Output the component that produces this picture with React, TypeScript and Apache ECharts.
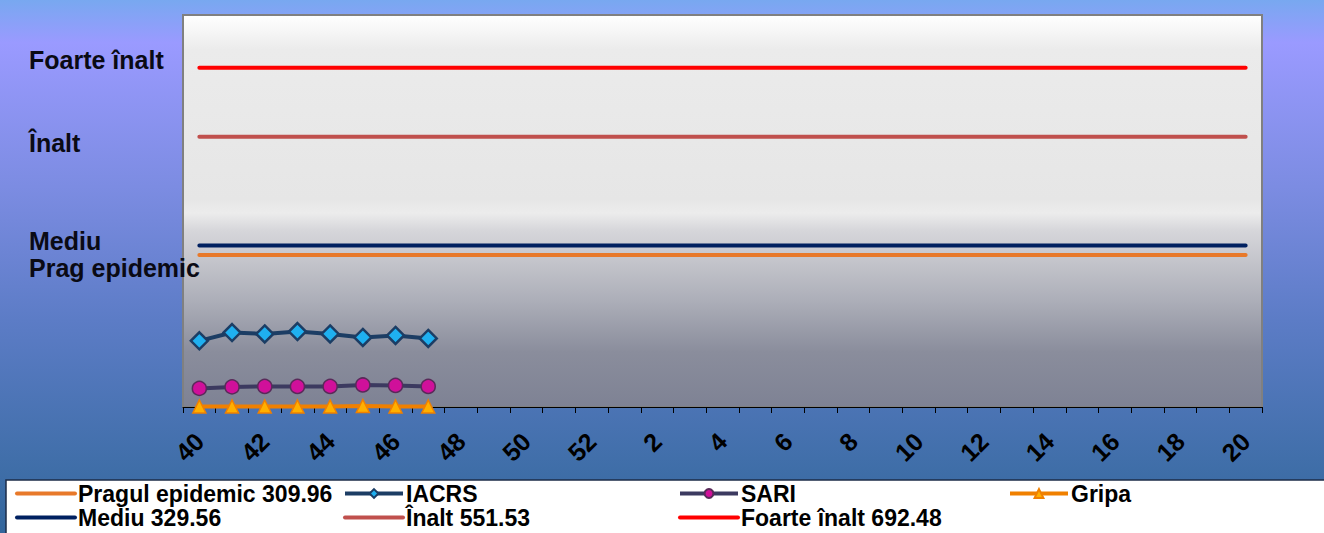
import React, { useEffect, useRef } from "react";
import * as echarts from "echarts";

const WEEKS = [
  "40", "41", "42", "43", "44", "45", "46", "47", "48", "49", "50", "51", "52",
  "1", "2", "3", "4", "5", "6", "7", "8", "9", "10", "11", "12", "13", "14", "15", "16", "17", "18", "19", "20",
];
const IACRS = [135, 152, 149, 154, 149, 142, 146, 140];
const SARI = [38, 41, 42, 42, 42, 45, 44, 42];
const GRIPA = [1, 1, 1, 1, 1, 2, 1, 1];
const PRAG = 309.96;
const MEDIU = 329.56;
const INALT = 551.53;
const FOARTE = 692.48;
const LEVEL_LABELS = ["Foarte înalt", "Înalt", "Mediu", "Prag epidemic"];

const NAME_PRAG = `Pragul epidemic ${PRAG.toFixed(2)}`;
const NAME_MEDIU = `Mediu ${MEDIU.toFixed(2)}`;
const NAME_INALT = `Înalt ${INALT.toFixed(2)}`;
const NAME_FOARTE = `Foarte înalt ${FOARTE.toFixed(2)}`;

const FONT = "'Liberation Sans', Arial, sans-serif";

export default function App() {
  const ref = useRef<HTMLDivElement>(null);
  useEffect(() => {
    if (!ref.current) return;
    const chart = echarts.init(ref.current, null, { renderer: "svg" });
    const flat = (v: number) => WEEKS.map(() => v);
    const levelLine = (name: string, v: number, color: string) => ({
      name,
      type: "line",
      data: flat(v),
      symbol: "none",
      lineStyle: { color, width: 4, cap: "round" },
      itemStyle: { color },
      z: 2,
    });
    const plain = (name: string) => ({ name, itemStyle: { opacity: 0 } });
    const legendBase = {
      orient: "vertical",
      top: 482,
      itemWidth: 58,
      itemHeight: 11,
      itemGap: 1,
      padding: 0,
      lineStyle: { width: 4 },
      textStyle: { fontFamily: FONT, fontWeight: "bold", fontSize: 23, color: "#000", lineHeight: 23, padding: [0, 0, 0, -2] },
      selectedMode: false,
    };
    const labelY = [60, 143, 241, 268];
    chart.setOption({
      animation: false,
      textStyle: { fontFamily: FONT },
      graphic: [
        {
          type: "rect",
          z: -100,
          silent: true,
          shape: { x: 0, y: 0, width: 1324, height: 533 },
          style: {
            fill: new echarts.graphic.LinearGradient(0, 0, 0, 1, [
              { offset: 0, color: "#78a8f0" },
              { offset: 0.08, color: "#9a9aff" },
              { offset: 0.35, color: "#7c8ce2" },
              { offset: 0.6, color: "#5c7cc6" },
              { offset: 0.88, color: "#3f6ea8" },
              { offset: 1, color: "#33669c" },
            ]),
          },
        },
        {
          type: "rect",
          z: -50,
          silent: true,
          shape: { x: 6, y: 480, width: 1330, height: 60 },
          style: { fill: "#ffffff", stroke: "#1c2c48", lineWidth: 1.5 },
        },
        ...LEVEL_LABELS.map((t, i) => ({
          type: "text",
          z: 100,
          silent: true,
          x: 29,
          y: labelY[i],
          style: {
            text: t,
            fontFamily: FONT,
            fontWeight: "bold",
            fontSize: 25,
            fill: "#0a0a14",
            verticalAlign: "middle",
          },
        })),
      ],
      grid: {
        left: 183,
        right: 62,
        top: 15,
        height: 392,
        show: true,
        borderColor: "#808080",
        borderWidth: 2,
        backgroundColor: new echarts.graphic.LinearGradient(0, 0, 0, 1, [
          { offset: 0, color: "#ffffff" },
          { offset: 0.09, color: "#ebebeb" },
          { offset: 0.47, color: "#e6e6e6" },
          { offset: 0.505, color: "#ececec" },
          { offset: 0.55, color: "#d6d6da" },
          { offset: 0.73, color: "#acaeb8" },
          { offset: 0.86, color: "#8a8d9c" },
          { offset: 1, color: "#7e8294" },
        ]),
      },
      legend: [
        { ...legendBase, left: 15, data: [plain(NAME_PRAG), plain(NAME_MEDIU)] },
        { ...legendBase, left: 343, data: ["IACRS", plain(NAME_INALT)] },
        { ...legendBase, left: 678, data: ["SARI", plain(NAME_FOARTE)] },
        { ...legendBase, left: 1008, data: ["Gripa"] },
      ],
      xAxis: {
        type: "category",
        data: WEEKS,
        boundaryGap: true,
        axisLine: { show: true, lineStyle: { color: "#000", width: 1 } },
        axisTick: { show: true, interval: 0, length: 6, lineStyle: { color: "#000" } },
        axisLabel: {
          interval: 1,
          rotate: 45,
          margin: 30,
          fontFamily: FONT,
          fontWeight: "bold",
          fontSize: 25,
          color: "#000",
        },
        splitLine: { show: false },
      },
      yAxis: {
        type: "value",
        min: 0,
        max: 800,
        show: false,
        splitLine: { show: false },
      },
      series: [
        levelLine(NAME_PRAG, PRAG, "#e8792a"),
        levelLine(NAME_MEDIU, MEDIU, "#002060"),
        levelLine(NAME_INALT, INALT, "#c0504d"),
        levelLine(NAME_FOARTE, FOARTE, "#ff0000"),
        {
          name: "IACRS",
          type: "line",
          data: IACRS,
          symbol: "diamond",
          symbolSize: 17,
          lineStyle: { color: "#1c3d64", width: 4 },
          itemStyle: { color: "#1fb0f0", borderColor: "#1c3d64", borderWidth: 2.5 },
          z: 3,
        },
        {
          name: "SARI",
          type: "line",
          data: SARI,
          symbol: "circle",
          symbolSize: 14,
          lineStyle: { color: "#3c3a60", width: 4 },
          itemStyle: { color: "#d0109a", borderColor: "#5a2a5a", borderWidth: 1.5 },
          z: 3,
        },
        {
          name: "Gripa",
          type: "line",
          data: GRIPA,
          symbol: "triangle",
          symbolSize: 13,
          lineStyle: { color: "#f08000", width: 4 },
          itemStyle: { color: "#ffb000", borderColor: "#f08000", borderWidth: 1.5 },
          z: 4,
        },
      ],
    });
    return () => chart.dispose();
  }, []);
  return (
    <div
      ref={ref}
      style={{ position: "absolute", left: 0, top: 0, width: 1324, height: 533 }}
    />
  );
}
